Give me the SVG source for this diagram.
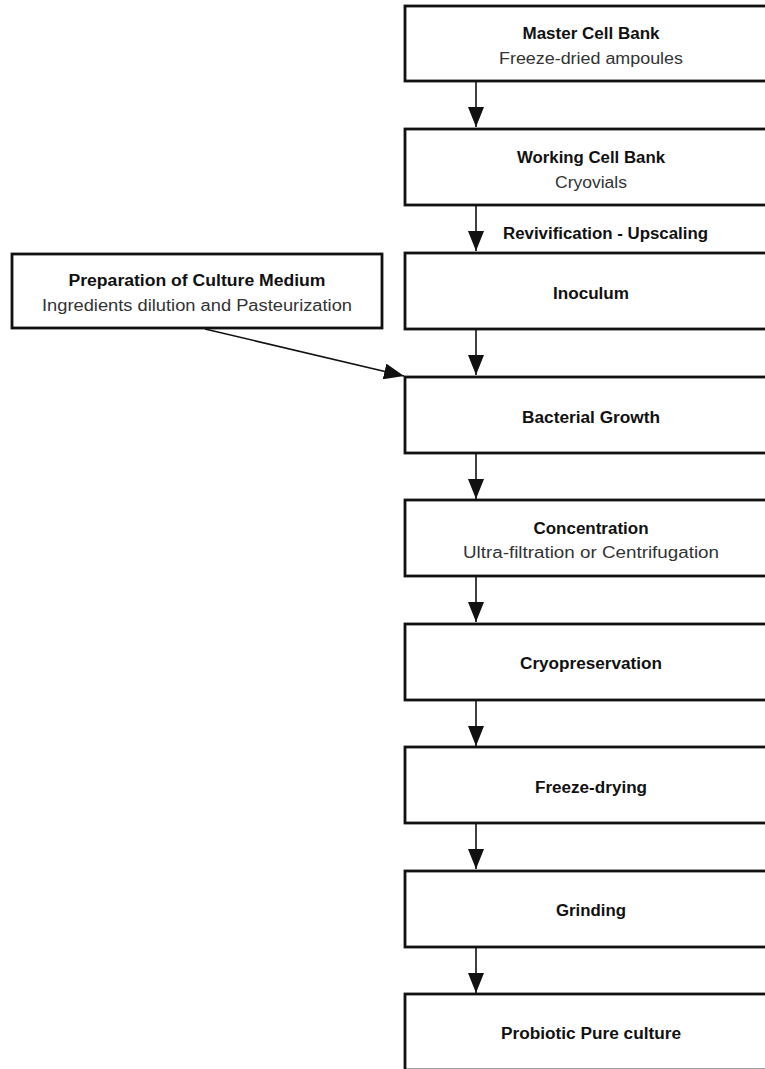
<svg xmlns="http://www.w3.org/2000/svg" width="765" height="1069" viewBox="0 0 765 1069">
<style>
.box{fill:#fff;stroke:#111;stroke-width:2.8}
.t{font-family:"Liberation Sans",Arial,sans-serif;font-size:16px;font-weight:bold;fill:#111;text-anchor:middle}
.s{font-family:"Liberation Sans",Arial,sans-serif;font-size:16px;fill:#333;text-anchor:middle}
.c{stroke:#111;stroke-width:1.6;fill:none}
</style>
<defs>
<marker id="ah" markerWidth="20" markerHeight="16" viewBox="0 0 20 16" refX="20" refY="8" orient="auto" markerUnits="userSpaceOnUse">
<path d="M0,0 L20,8 L0,16 Z" fill="#111"/>
</marker>
</defs>
<rect width="765" height="1069" fill="#fff"/>
<g id="connectors">
<line class="c" x1="476" y1="81" x2="476" y2="127" marker-end="url(#ah)"/>
<line class="c" x1="476" y1="205" x2="476" y2="251" marker-end="url(#ah)"/>
<line class="c" x1="476" y1="329" x2="476" y2="375" marker-end="url(#ah)"/>
<line class="c" x1="205" y1="329" x2="404" y2="376" marker-end="url(#ah)"/>
<line class="c" x1="476" y1="453" x2="476" y2="499" marker-end="url(#ah)"/>
<line class="c" x1="476" y1="576" x2="476" y2="622" marker-end="url(#ah)"/>
<line class="c" x1="476" y1="700" x2="476" y2="746" marker-end="url(#ah)"/>
<line class="c" x1="476" y1="823" x2="476" y2="869" marker-end="url(#ah)"/>
<line class="c" x1="476" y1="947" x2="476" y2="993" marker-end="url(#ah)"/>
<text class="t" x="605.5" y="239" textLength="205" lengthAdjust="spacingAndGlyphs">Revivification - Upscaling</text>
</g>
<g id="master-cell-bank">
<rect class="box" x="405" y="6" width="372" height="75"/>
<text class="t" x="591" y="39" textLength="137" lengthAdjust="spacingAndGlyphs">Master Cell Bank</text>
<text class="s" x="591" y="64" textLength="184" lengthAdjust="spacingAndGlyphs">Freeze-dried ampoules</text>
</g>
<g id="working-cell-bank">
<rect class="box" x="405" y="129" width="372" height="76"/>
<text class="t" x="591" y="163" textLength="148" lengthAdjust="spacingAndGlyphs">Working Cell Bank</text>
<text class="s" x="591" y="188" textLength="72" lengthAdjust="spacingAndGlyphs">Cryovials</text>
</g>
<g id="inoculum">
<rect class="box" x="405" y="253" width="372" height="76"/>
<text class="t" x="591" y="299" textLength="76" lengthAdjust="spacingAndGlyphs">Inoculum</text>
</g>
<g id="culture-medium">
<rect class="box" x="12" y="254" width="370" height="74"/>
<text class="t" x="197" y="286" textLength="257" lengthAdjust="spacingAndGlyphs">Preparation of Culture Medium</text>
<text class="s" x="197" y="311" textLength="310" lengthAdjust="spacingAndGlyphs">Ingredients dilution and Pasteurization</text>
</g>
<g id="bacterial-growth">
<rect class="box" x="405" y="377" width="372" height="76"/>
<text class="t" x="591" y="423" textLength="138" lengthAdjust="spacingAndGlyphs">Bacterial Growth</text>
</g>
<g id="concentration">
<rect class="box" x="405" y="500" width="372" height="76"/>
<text class="t" x="591" y="534" textLength="115" lengthAdjust="spacingAndGlyphs">Concentration</text>
<text class="s" x="591" y="558" textLength="256" lengthAdjust="spacingAndGlyphs">Ultra-filtration or Centrifugation</text>
</g>
<g id="cryopreservation">
<rect class="box" x="405" y="624" width="372" height="76"/>
<text class="t" x="591" y="669" textLength="142" lengthAdjust="spacingAndGlyphs">Cryopreservation</text>
</g>
<g id="freeze-drying">
<rect class="box" x="405" y="747" width="372" height="76"/>
<text class="t" x="591" y="793" textLength="112" lengthAdjust="spacingAndGlyphs">Freeze-drying</text>
</g>
<g id="grinding">
<rect class="box" x="405" y="871" width="372" height="76"/>
<text class="t" x="591" y="916" textLength="70" lengthAdjust="spacingAndGlyphs">Grinding</text>
</g>
<g id="probiotic-pure-culture">
<rect class="box" x="405" y="994" width="372" height="76"/>
<text class="t" x="591" y="1039" textLength="180" lengthAdjust="spacingAndGlyphs">Probiotic Pure culture</text>
</g>
</svg>
